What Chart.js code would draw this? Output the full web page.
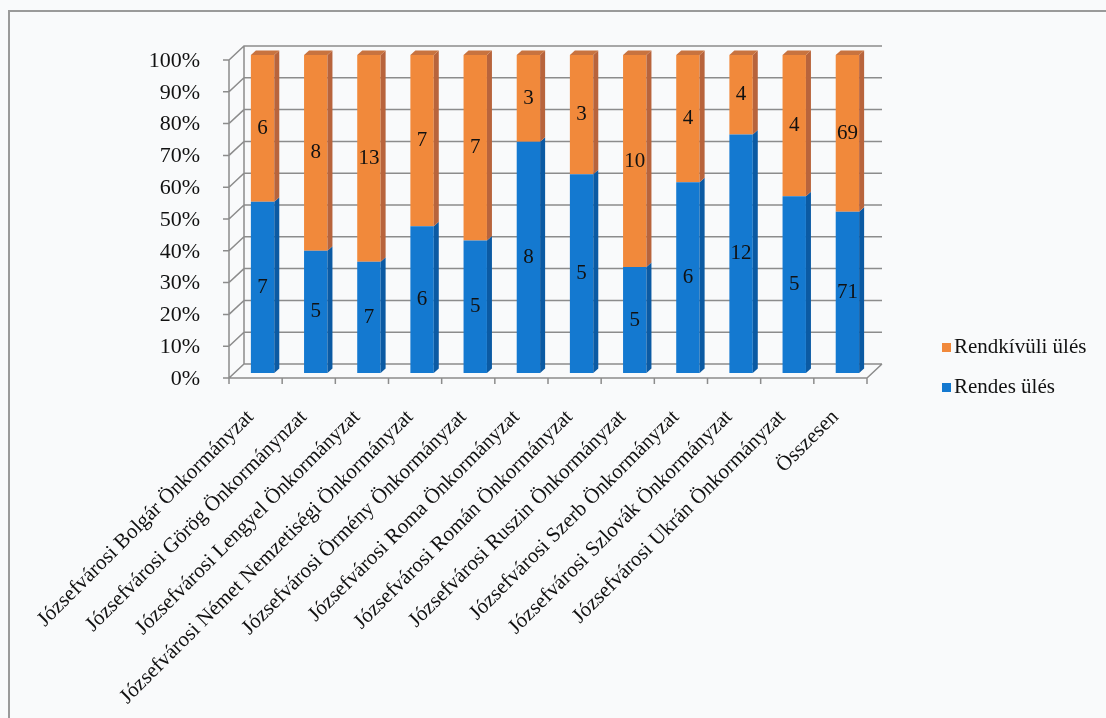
<!DOCTYPE html>
<html>
<head>
<meta charset="utf-8">
<script src="https://cdn.jsdelivr.net/npm/chart.js@4.4.1/dist/chart.umd.min.js"></script>
<style>
  html, body { margin: 0; padding: 0; background: #f9fafb; }
  #wrap { position: absolute; left: 0; top: 0; width: 1106px; height: 718px; }
  #frame { position: absolute; left: 8px; top: 10px; width: 1120px; height: 740px; border: 2px solid #9a9a9a; box-sizing: border-box; }
</style>
</head>
<body>
<div id="wrap">
  <div id="frame"></div>
  <canvas id="myChart" width="1106" height="718"></canvas>
</div>
<script>
var categories = [
  'Józsefvárosi Bolgár Önkormányzat',
  'Józsefvárosi Görög Önkormánynzat',
  'Józsefvárosi Lengyel Önkormányzat',
  'Józsefvárosi Német Nemzetiségi Önkormányzat',
  'Józsefvárosi Örmény Önkormányzat',
  'Józsefvárosi Roma Önkormányzat',
  'Józsefvárosi Román Önkormányzat',
  'Józsefvárosi Ruszin Önkormányzat',
  'Józsefvárosi Szerb Önkormányzat',
  'Józsefvárosi Szlovák Önkormányzat',
  'Józsefvárosi Ukrán Önkormányzat',
  'Összesen'
];
var rendes = [7, 5, 7, 6, 5, 8, 5, 5, 6, 12, 5, 71];
var rendkivuli = [6, 8, 13, 7, 7, 3, 3, 10, 4, 4, 4, 69];
var yTicks = [0, 10, 20, 30, 40, 50, 60, 70, 80, 90, 100];

var FONT = 'Liberation Serif';
var BLUE = '#1479d0', BLUE_SIDE = '#0b5aa3';
var ORANGE = '#f1893b', ORANGE_SIDE = '#b8643c', ORANGE_TOP = '#c8733f';
var GRID = '#8c8c8c';

// percent of each series in its column (100% stacked)
function share(a, b) {
  return a.map(function (v, i) { return v / (v + b[i]) * 100; });
}

// 3D frame: side wall, back wall grid and floor
var frame3d = {
  id: 'frame3d',
  beforeDatasetsDraw: function (chart) {
    var c = chart.ctx, a = chart.chartArea, y = chart.scales.y;
    var fx = a.left - 7, bx = a.left + 8, rx = a.right + 8, frx = a.right - 7;
    c.save();
    c.strokeStyle = GRID;
    c.lineWidth = 1.5;
    c.beginPath();
    yTicks.forEach(function (v) {
      var py = y.getPixelForValue(v);
      c.moveTo(fx - 6, py + 5); c.lineTo(fx, py + 5);
      c.lineTo(bx, py - 9); c.lineTo(rx, py - 9);
    });
    var top = y.getPixelForValue(100), base = y.getPixelForValue(0);
    c.moveTo(fx, top + 5); c.lineTo(fx, base + 5);
    c.moveTo(bx, top - 9); c.lineTo(bx, base - 9);
    c.moveTo(fx, base + 5); c.lineTo(frx, base + 5); c.lineTo(rx, base - 9);
    for (var i = 0; i <= categories.length; i++) {
      var px = a.left + (a.right - a.left) * i / categories.length - 7;
      c.moveTo(px, base + 5); c.lineTo(px, base + 11);
    }
    c.stroke();
    c.restore();
  },
  afterDatasetsDraw: function (chart) {
    var c = chart.ctx;
    var dx = 5, dy = 4.5;
    c.save();
    chart.data.datasets.forEach(function (ds, di) {
      var meta = chart.getDatasetMeta(di);
      meta.data.forEach(function (bar, i) {
        var r = bar.x + bar.width / 2, l = bar.x - bar.width / 2;
        c.fillStyle = di === 0 ? BLUE_SIDE : ORANGE_SIDE;
        c.beginPath();
        c.moveTo(r, bar.y); c.lineTo(r + dx, bar.y - dy);
        c.lineTo(r + dx, bar.base - dy); c.lineTo(r, bar.base);
        c.closePath(); c.fill();
        if (di === chart.data.datasets.length - 1) {
          c.fillStyle = ORANGE_TOP;
          c.beginPath();
          c.moveTo(l, bar.y); c.lineTo(l + dx, bar.y - dy);
          c.lineTo(r + dx, bar.y - dy); c.lineTo(r, bar.y);
          c.closePath(); c.fill();
        }
        // count label in the middle of the segment
        c.fillStyle = '#111';
        c.font = '21px "' + FONT + '"';
        c.textAlign = 'center';
        c.textBaseline = 'middle';
        c.fillText(String(ds.counts[i]), bar.x, (bar.y + bar.base) / 2);
      });
    });
    c.restore();
  },
  afterDraw: function (chart) {
    var c = chart.ctx;
    var items = [[ORANGE, 'Rendkívüli ülés', 347], [BLUE, 'Rendes ülés', 387]];
    c.save();
    c.font = '21px "' + FONT + '"';
    c.textBaseline = 'middle';
    c.textAlign = 'left';
    items.forEach(function (it) {
      c.fillStyle = it[0];
      c.fillRect(942, it[2] - 4, 9, 9);
      c.fillStyle = '#111';
      c.fillText(it[1], 954, it[2]);
    });
    c.restore();
  }
};

var ctx = document.getElementById('myChart').getContext('2d');
var myChart = new Chart(ctx, {
  type: 'bar',
  data: {
    labels: categories,
    datasets: [{
      label: 'Rendes ülés',
      data: share(rendes, rendkivuli),
      counts: rendes,
      backgroundColor: BLUE
    }, {
      label: 'Rendkívüli ülés',
      data: share(rendkivuli, rendes),
      counts: rendkivuli,
      backgroundColor: ORANGE
    }]
  },
  options: {
    responsive: false,
    animation: false,
    barPercentage: 0.55,
    categoryPercentage: 0.8,
    layout: { padding: { left: 0, top: 55, right: 232, bottom: 0 } },
    plugins: { legend: { display: false }, tooltip: { enabled: false } },
    scales: {
      x: {
        stacked: true,
        grid: { display: false },
        border: { display: false },
        ticks: {
          autoSkip: false, minRotation: 45, maxRotation: 45,
          labelOffset: -12, padding: 24,
          color: '#111', font: { family: FONT, size: 21 }
        },
        afterFit: function (s) { s.height = 345; }
      },
      y: {
        stacked: true,
        min: 0, max: 100,
        grid: { display: false },
        border: { display: false },
        afterBuildTicks: function (s) { s.ticks = yTicks.map(function (v) { return { value: v }; }); },
        ticks: {
          padding: 28, labelOffset: 6,
          color: '#111', font: { family: FONT, size: 22 },
          callback: function (v) { return v + '%'; }
        },
        afterFit: function (s) { s.width = 236; }
      }
    }
  },
  plugins: [frame3d]
});
</script>
</body>
</html>
